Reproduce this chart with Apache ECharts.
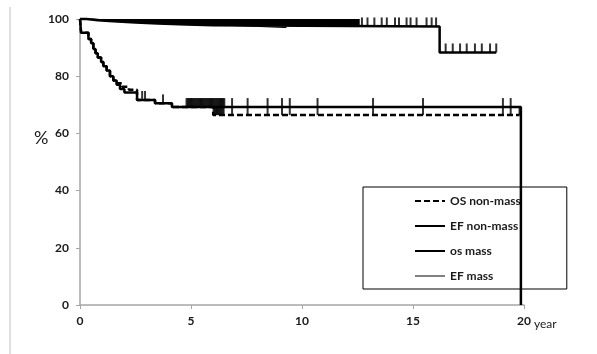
<!DOCTYPE html>
<html>
<head>
<meta charset="utf-8">
<script src="https://cdn.jsdelivr.net/npm/echarts@6/dist/echarts.min.js"></script>
<style>
  html, body { margin: 0; padding: 0; background: #fff; }
  #chart { width: 597px; height: 354px; }
</style>
</head>
<body>
<div id="chart"></div>
<script>
// survival curves (year, %), step after each time point
var efNonMassT = [0, 0.05, 0.38, 0.5, 0.6, 0.7, 0.8, 0.95, 1.05, 1.2, 1.35, 1.5, 1.65, 1.8, 2.0, 2.57, 3.38, 4.14, 19.86];
var efNonMassV = [100, 95.2, 93.0, 91.5, 89.5, 88.0, 86.5, 85.0, 83.5, 82.0, 80.0, 78.5, 77.0, 75.5, 74.3, 71.7, 70.5, 69.2, 0];

var osNonMassT = [0, 0.05, 0.38, 0.5, 0.6, 0.7, 0.8, 0.95, 1.05, 1.2, 1.35, 1.5, 1.65, 1.9, 2.2, 2.57, 3.38, 4.14, 6.0, 19.8];
var osNonMassV = [100, 95.2, 93.0, 91.5, 89.5, 88.0, 86.5, 85.0, 83.5, 82.0, 80.0, 78.5, 77.5, 76.3, 75.3, 71.7, 70.5, 69.2, 66.4, 66.4];

var osMassT = [0, 0.3, 0.8, 1.5, 2.5, 3.5, 4.8, 6.0, 16.2, 18.75];
var osMassV = [100, 99.6, 99.2, 98.8, 98.4, 98.1, 97.8, 97.4, 88.3, 88.3];

var efMassT = [0, 0.6, 1.5, 2.6, 3.8, 5.2, 6.6, 8.0, 9.3];
var efMassV = [100, 99.5, 99.0, 98.6, 98.2, 97.8, 97.4, 97.0, 97.0];

// censored cases (year)
var efNonMassCensor = [2.8, 2.93, 3.74,
                       4.8, 4.85, 4.9, 4.95, 5.0, 5.05, 5.1, 5.15, 5.2, 5.25, 5.3, 5.35, 5.4, 5.45, 5.5, 5.55, 5.6,
                       5.65, 5.7, 5.75, 5.8, 5.85, 5.9, 5.95, 6.0, 6.05, 6.1, 6.15, 6.2, 6.25, 6.3, 6.35, 6.4, 6.45, 6.5,
                       6.85, 7.55, 8.45, 9.1, 9.45, 10.7, 13.2, 15.45, 19.05, 19.4];
var osNonMassCensor = [6.02, 6.07, 6.12, 6.17, 6.22, 6.27, 6.32, 6.37, 6.42, 6.47,
                       6.85, 7.55, 8.45, 9.1, 9.45, 10.7, 13.2, 15.45, 19.05, 19.4, 19.8];
var osMassCensor = [12.7, 12.95, 13.26, 13.59, 13.82, 14.19, 14.37, 14.71, 14.89, 15.16, 15.61, 15.84, 16.04,
                    16.47, 16.79, 17.12, 17.42, 17.79, 18.1, 18.47, 18.75];
// os mass censoring is so dense before this year that it reads as a solid band
var osMassBandEnd = 12.6;

var xTicks = [0, 5, 10, 15, 20];
var yTicks = [0, 20, 40, 60, 80, 100];
var legendNames = ['OS non-mass', 'EF non-mass', 'os mass', 'EF mass'];

function pairs(T, V) {
	var out = [];
	for (var i = 0; i < T.length; i++) out.push([T[i], V[i]]);
	return out;
}
function valueAt(T, V, t) {
	var v = V[0];
	for (var i = 0; i < T.length; i++) if (T[i] <= t) v = V[i];
	return v;
}
function censorMarks(times, T, V) {
	return times.map(function (t) { return [t, valueAt(T, V, t)]; });
}

var bandData = [];
for (var i = 0; i < osMassT.length; i++) {
	if (osMassT[i] < osMassBandEnd) bandData.push([osMassT[i], osMassV[i]]);
}
bandData.push([osMassBandEnd, valueAt(osMassT, osMassV, osMassBandEnd)]);

var labelFont = { color: '#1a1a1a', fontFamily: 'Lato', fontWeight: 'bold', fontSize: 12 };
var axisGray = '#a6a6a6';

function tickSeries(data) {
	return {
		type: 'scatter',
		data: data,
		symbol: 'rect',
		symbolSize: [2, 9],
		symbolOffset: [0, -4.5],
		itemStyle: { color: '#000' },
		silent: true,
		clip: false,
		z: 3
	};
}
function kmSeries(name, T, V, lineStyle, z) {
	return {
		name: name, type: 'line', step: 'end', data: pairs(T, V),
		symbol: 'none', showSymbol: false, clip: false, color: '#000',
		lineStyle: lineStyle, z: z
	};
}

// thin line for EF mass in the legend too
var legendData = legendNames.map(function (n) {
	return n === 'EF mass' ? { name: n, lineStyle: { width: 1 } } : { name: n };
});

var chart = echarts.init(document.getElementById('chart'));

var option = {
	animation: false,
	backgroundColor: '#fff',
	grid: { left: 80, right: 73, top: 19, bottom: 49 },
	xAxis: {
		type: 'value', min: xTicks[0], max: xTicks[xTicks.length - 1], interval: 5,
		axisLine: { lineStyle: { color: axisGray, width: 1.5 } },
		axisTick: { show: true, length: 4, lineStyle: { color: axisGray } },
		axisLabel: Object.assign({ margin: 10 }, labelFont),
		splitLine: { show: false }
	},
	yAxis: {
		type: 'value', min: yTicks[0], max: yTicks[yTicks.length - 1], interval: 20,
		axisLine: { show: true, lineStyle: { color: axisGray, width: 1.5 } },
		axisTick: { show: true, length: 4, lineStyle: { color: axisGray } },
		axisLabel: Object.assign({ margin: 11 }, labelFont),
		splitLine: { show: false }
	},
	legend: {
		data: legendData,
		orient: 'vertical',
		left: 363, top: 187,
		padding: [8, 46, 7, 51],
		itemWidth: 30, itemHeight: 14, itemGap: 13,
		borderColor: '#000', borderWidth: 1,
		itemStyle: { opacity: 0 },
		textStyle: { color: '#1a1a1a', fontFamily: 'Lato', fontWeight: 'bold', fontSize: 12 },
		selectedMode: false
	},
	graphic: [
		{ type: 'line', shape: { x1: 10, y1: 7, x2: 10, y2: 354 }, style: { stroke: '#d4d4d4', lineWidth: 1.5 } },
		{ type: 'text', left: 34, top: 129, style: { text: '%', fontFamily: 'Lato', fontSize: 18, fill: '#1a1a1a' } },
		{ type: 'text', left: 534, top: 318, style: { text: 'year', fontFamily: 'Lato', fontSize: 12, fill: '#1a1a1a' } }
	],
	series: [
		{
			name: 'os mass band', type: 'line', step: 'end', data: bandData,
			symbol: 'none', silent: true, clip: false,
			lineStyle: { width: 0 },
			areaStyle: { color: '#000', opacity: 1, origin: 'end' },
			z: 2
		},
		kmSeries('EF mass', efMassT, efMassV, { color: '#000', width: 1 }, 3),
		kmSeries('os mass', osMassT, osMassV, { color: '#000', width: 2.5 }, 3),
		kmSeries('OS non-mass', osNonMassT, osNonMassV, { color: '#000', width: 2.5, type: [6, 3] }, 3),
		kmSeries('EF non-mass', efNonMassT, efNonMassV, { color: '#000', width: 2.5 }, 5),
		tickSeries(censorMarks(osMassCensor, osMassT, osMassV)),
		tickSeries(censorMarks(efNonMassCensor, efNonMassT, efNonMassV)),
		tickSeries(censorMarks(osNonMassCensor, osNonMassT, osNonMassV))
	]
};

chart.setOption(option);
</script>
</body>
</html>
